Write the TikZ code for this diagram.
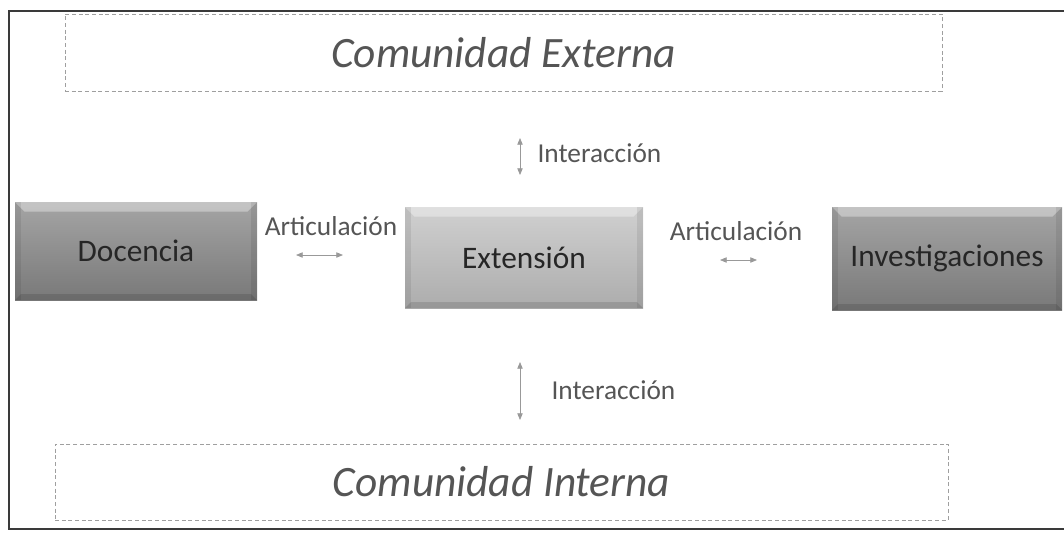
\documentclass[tikz,border=0pt]{standalone}
\usepackage{fontspec}
\setmainfont{Carlito}
\usetikzlibrary{arrows.meta}

\definecolor{darkface}{HTML}{8E8E8E}
\definecolor{lightface}{HTML}{C4C4C4}
\definecolor{labelgray}{HTML}{555555}
\definecolor{framegray}{HTML}{3A3A3A}

\newcommand\comstyle{\fontsize{32.5}{36}\selectfont\itshape}
\newcommand\boxtextstyle{\fontsize{23.5}{27}\selectfont}
\newcommand\labelstyle{\fontsize{20.5}{24}\selectfont}
\newcommand\bevel{6}

\tikzset{
  comunidad/.style={draw=gray!75, dash pattern=on 3pt off 2pt, line width=.6pt,
    inner sep=0pt, text=labelgray, font=\comstyle},
  bevelbox/.style={inner sep=0pt, text=black!85, font=\boxtextstyle,
    path picture={
      \fill[white, opacity=.35] (path picture bounding box.north west) -- (path picture bounding box.north east)
        -- ++(-\bevel*1.6, \bevel*1.6) -- ([xshift=\bevel*1.6*.75pt, yshift=-\bevel*1.6*.75pt]path picture bounding box.north west) -- cycle;
      \fill[black, opacity=.12] (path picture bounding box.south west) -- (path picture bounding box.south east)
        -- ++(-\bevel, -\bevel) -- ([xshift=\bevel*.75pt, yshift=\bevel*.75pt]path picture bounding box.south west) -- cycle;
      \fill[black, opacity=.08] (path picture bounding box.north west) rectangle ([xshift=\bevel*.75pt]path picture bounding box.south west);
      \fill[black, opacity=.08] (path picture bounding box.north east) rectangle ([xshift=-\bevel*.75pt]path picture bounding box.south east);
    }},
  darkbox/.style={bevelbox, top color=darkface!80!white, bottom color=darkface!85!black},
  lightbox/.style={bevelbox, top color=lightface!80!white, bottom color=lightface!88!black},
  linklabel/.style={text=labelgray, font=\labelstyle, inner sep=1pt},
  linkarrow/.style={{Triangle[length=5pt,width=4pt]}-{Triangle[length=5pt,width=4pt]}, draw=gray!80, line width=.6pt}
}

\begin{document}
\begin{tikzpicture}[x=.75pt, y=-.75pt]
  \useasboundingbox (0,0) rectangle (1064,537);
  % scan frame
  \draw[framegray, line width=1.5pt] (1064,11) -- (9,11) -- (9,529) -- (1064,529);

  \node[comunidad, minimum width=657.75pt, minimum height=57.75pt] (ext) at (503.5,52.5) {Comunidad Externa};
  \node[comunidad, minimum width=669.75pt, minimum height=57pt] (int) at (501.5,482) {Comunidad Interna};

  \node[darkbox, minimum width=181.5pt, minimum height=73.5pt] (doc) at (136,251) {Docencia};
  \node[lightbox, minimum width=178.5pt, minimum height=75.75pt] (extn) at (524,257.5) {Extensión};
  \node[darkbox, minimum width=172.5pt, minimum height=77.25pt] (inv) at (947,258.5) {Investigaciones};

  % arrows
  \coordinate (al1) at (296,255);
  \coordinate (al2) at (343,255);
  \coordinate (ar1) at (720,260);
  \coordinate (ar2) at (757,260);
  \coordinate (it1) at (520,138);
  \coordinate (it2) at (520,175);
  \coordinate (ib1) at (520,362);
  \coordinate (ib2) at (520,420);
  \draw[linkarrow] (al1) -- (al2);
  \draw[linkarrow] (ar1) -- (ar2);
  \draw[linkarrow] (it1) -- (it2);
  \draw[linkarrow] (ib1) -- (ib2);

  \node[linklabel] (artl) at (331,226) {Articulación};
  \node[linklabel] (artr) at (736,231) {Articulación};
  \node[linklabel, anchor=west] (intt) at (536,153) {Interacción};
  \node[linklabel, anchor=west] (intb) at (550,390) {Interacción};
\end{tikzpicture}
\end{document}
